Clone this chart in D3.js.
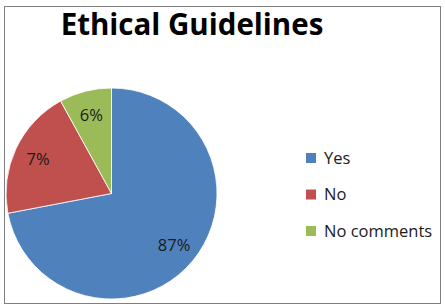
<!DOCTYPE html>
<html>
<head>
<meta charset="utf-8">
<script src="https://cdn.jsdelivr.net/npm/d3@7"></script>
<style>
  body { margin: 0; background: #fff; }
  svg text { font-family: "Open Sans", Lato, sans-serif; }
</style>
</head>
<body>
<div id="chart"></div>
<script>
// categories and slice sizes
const categories = ["Yes", "No", "No comments"];
const values = [72, 20, 8];
// the data labels as printed on the chart
const labels = ["87%", "7%", "6%"];
const colors = ["#4F81BD", "#C0504D", "#9BBB59"];

const width = 445, height = 306;

const svg = d3.select("#chart").append("svg")
    .attr("width", width)
    .attr("height", height);

// chart frame
svg.append("rect")
    .attr("x", 4.5)
    .attr("y", 6.5)
    .attr("width", 436)
    .attr("height", 297)
    .attr("fill", "#fff")
    .attr("stroke", "#7f7f7f")
    .attr("stroke-width", 1);

// title
svg.append("text")
    .attr("x", 192)
    .attr("y", 35)
    .attr("text-anchor", "middle")
    .attr("font-size", 29.5)
    .attr("font-weight", "bold")
    .attr("fill", "#000")
    .text("Ethical Guidelines");

const radius = 105.5;
const g = svg.append("g")
    .attr("transform", "translate(111.5,193.5)");

const pie = d3.pie().sort(null).value(d => d.value);
const arc = d3.arc().innerRadius(0).outerRadius(radius);
const labelArc = d3.arc().innerRadius(radius * 0.77).outerRadius(radius * 0.77);

const data = categories.map((c, i) => ({name: c, value: values[i], label: labels[i], color: colors[i]}));
const arcs = pie(data);

g.selectAll("path")
    .data(arcs)
    .enter()
    .append("path")
    .attr("d", arc)
    .attr("fill", d => d.data.color)
    .attr("stroke", "#fff")
    .attr("stroke-width", 0.8);

g.selectAll(".lbl")
    .data(arcs)
    .enter()
    .append("text")
    .attr("class", "lbl")
    .attr("transform", d => `translate(${labelArc.centroid(d)})`)
    .attr("text-anchor", "middle")
    .attr("dy", "0.36em")
    .attr("font-size", 16.5)
    .attr("fill", "#1a1a1a")
    .text(d => d.data.label);

// legend
const legend = svg.selectAll(".legend")
    .data(data)
    .enter()
    .append("g")
    .attr("class", "legend")
    .attr("transform", (d, i) => `translate(306, ${153 + i * 36.5})`);

legend.append("rect")
    .attr("width", 10)
    .attr("height", 10)
    .attr("fill", d => d.color);

legend.append("text")
    .attr("x", 18)
    .attr("y", 5)
    .attr("dy", "0.36em")
    .attr("font-size", 16.5)
    .attr("fill", "#1a1a1a")
    .text(d => d.name);
</script>
</body>
</html>
